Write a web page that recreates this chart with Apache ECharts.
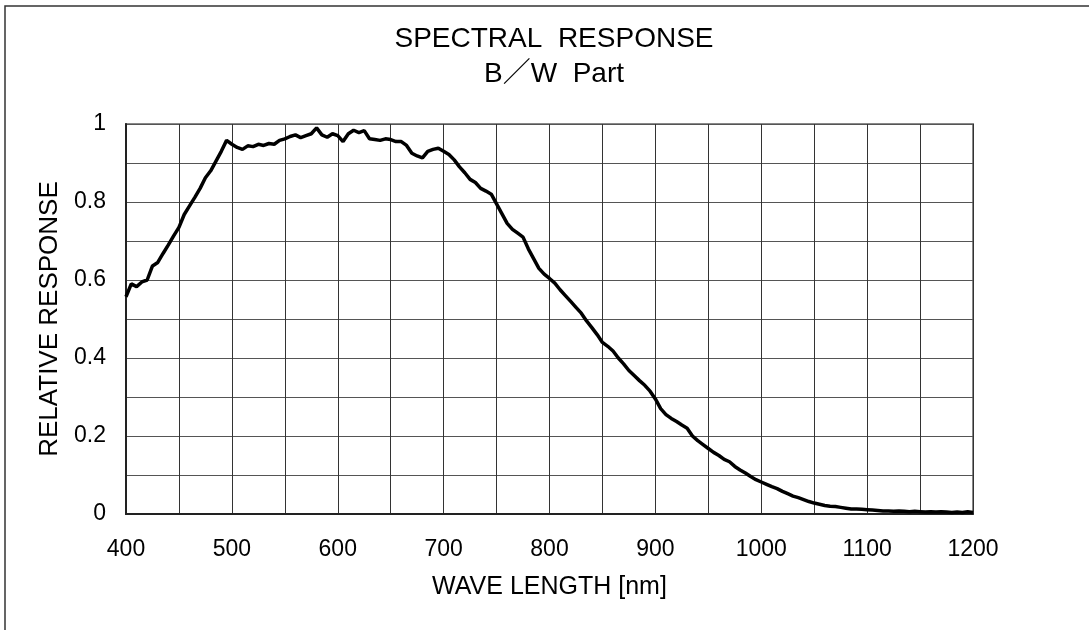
<!DOCTYPE html>
<html>
<head>
<meta charset="utf-8">
<script src="https://cdn.jsdelivr.net/npm/echarts@6/dist/echarts.min.js"></script>
<style>
html,body{margin:0;padding:0;background:#fff;}
#chart{width:1089px;height:630px;}
</style>
</head>
<body>
<div id="chart"></div>
<script>
var titleLines = ['SPECTRAL  RESPONSE', 'B／W  Part'];
var xAxisName = 'WAVE LENGTH [nm]';
var yAxisName = 'RELATIVE RESPONSE';

var wavelengths = [
  400,405,410,415,420,425,430,435,440,445,450,455,460,465,470,475,480,485,490,495,
  500,505,510,515,520,525,530,535,540,545,550,555,560,565,570,575,580,585,590,595,
  600,605,610,615,620,625,630,635,640,645,650,655,660,665,670,675,680,685,690,695,
  700,705,710,715,720,725,730,735,740,745,750,755,760,765,770,775,780,785,790,795,
  800,805,810,815,820,825,830,835,840,845,850,855,860,865,870,875,880,885,890,895,
  900,905,910,915,920,925,930,935,940,945,950,955,960,965,970,975,980,985,990,995,
  1000,1005,1010,1015,1020,1025,1030,1035,1040,1045,1050,1055,1060,1065,1070,1075,1080,1085,1090,1095,
  1100,1105,1110,1115,1120,1125,1130,1135,1140,1145,1150,1155,1160,1165,1170,1175,1180,1185,1190,1195,
  1200
];

var response = [
  0.557,0.590,0.583,0.595,0.600,0.636,0.645,0.668,0.690,0.713,0.735,0.768,0.790,0.812,0.835,0.862,0.880,0.905,0.930,0.958,
  0.948,0.940,0.935,0.944,0.942,0.948,0.945,0.950,0.948,0.958,0.962,0.968,0.972,0.965,0.970,0.975,0.990,0.972,0.966,0.975,
  0.970,0.955,0.975,0.984,0.978,0.983,0.962,0.960,0.958,0.962,0.960,0.955,0.955,0.945,0.925,0.918,0.913,0.930,0.935,0.938,
  0.930,0.922,0.908,0.890,0.875,0.858,0.850,0.835,0.828,0.820,0.795,0.770,0.745,0.730,0.720,0.710,0.680,0.655,0.630,0.615,
  0.604,0.592,0.575,0.560,0.545,0.530,0.515,0.495,0.478,0.460,0.440,0.430,0.418,0.400,0.385,0.368,0.355,0.342,0.330,0.315,
  0.295,0.270,0.255,0.245,0.237,0.228,0.220,0.200,0.188,0.178,0.168,0.158,0.150,0.140,0.134,0.122,0.113,0.105,0.096,0.088,
  0.082,0.076,0.070,0.065,0.058,0.052,0.046,0.042,0.037,0.032,0.028,0.025,0.022,0.020,0.019,0.017,0.015,0.013,0.013,0.012,
  0.011,0.010,0.009,0.008,0.008,0.007,0.008,0.007,0.006,0.007,0.006,0.005,0.006,0.005,0.006,0.005,0.004,0.005,0.004,0.006,
  0.004
];

var xTickLabels = [400,500,600,700,800,900,1000,1100,1200];
var yTickLabels = ['0','0.2','0.4','0.6','0.8','1'];

var seriesData = wavelengths.map(function(w, i){ return [w, response[i]]; });

var chart = echarts.init(document.getElementById('chart'), null, {renderer:'canvas'});
chart.setOption({
  animation: false,
  backgroundColor: '#fff',
  title: {
    text: titleLines.join('\n'),
    left: 554,
    top: 22,
    textAlign: 'center',
    padding: 0,
    textStyle: {
      fontFamily: 'Liberation Sans, Arial, Noto Sans CJK JP, sans-serif',
      fontSize: 28,
      fontWeight: 'normal',
      color: '#000',
      lineHeight: 35
    }
  },
  graphic: [{
    type: 'rect',
    silent: true,
    shape: {x: 5, y: 6, width: 1200, height: 800},
    style: {fill: 'none', stroke: '#333', lineWidth: 1.5},
    z: 100
  }],
  grid: {
    left: 126, right: 116, top: 124, bottom: 116,
    show: true,
    borderColor: '#888',
    borderWidth: 2,
    backgroundColor: 'transparent'
  },
  xAxis: {
    type: 'value',
    min: 400, max: 1200, interval: 50,
    name: xAxisName,
    nameLocation: 'middle',
    nameGap: 61,
    nameTextStyle: {fontFamily: 'Liberation Sans, Arial, sans-serif', fontSize: 25, color: '#000'},
    axisLine: {show: true, lineStyle: {color: '#222', width: 2}},
    axisTick: {show: false},
    splitLine: {show: true, lineStyle: {color: '#333', width: 1}},
    axisLabel: {
      margin: 24,
      fontFamily: 'Liberation Sans, Arial, sans-serif',
      fontSize: 23,
      color: '#000',
      formatter: function(v){ return xTickLabels.indexOf(v) >= 0 ? String(v) : ''; }
    }
  },
  yAxis: {
    type: 'value',
    min: 0, max: 1, interval: 0.1,
    name: yAxisName,
    nameLocation: 'middle',
    nameGap: 61,
    nameRotate: 90,
    nameTextStyle: {fontFamily: 'Liberation Sans, Arial, sans-serif', fontSize: 26, color: '#000'},
    axisLine: {show: true, lineStyle: {color: '#222', width: 2}},
    axisTick: {show: false},
    splitLine: {show: true, lineStyle: {color: '#555', width: 1}},
    axisLabel: {
      margin: 20,
      fontFamily: 'Liberation Sans, Arial, sans-serif',
      fontSize: 23,
      color: '#000',
      formatter: function(v){
        var k = Math.round(v * 10);
        return (k % 2 === 0) ? yTickLabels[k / 2] : '';
      }
    }
  },
  series: [{
    type: 'line',
    data: seriesData,
    showSymbol: false,
    smooth: false,
    lineStyle: {color: '#000', width: 3.5},
    z: 5
  }]
});
</script>
</body>
</html>
